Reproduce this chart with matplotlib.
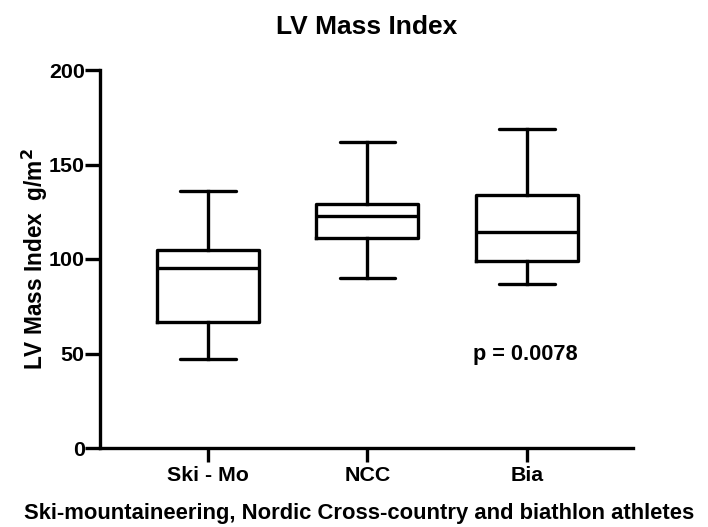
import matplotlib
matplotlib.use("Agg")
import matplotlib.pyplot as plt

# Box plot values (LV mass index, g/m^2)
groups = ["Ski - Mo", "NCC", "Bia"]
whisker_low = [47, 90, 87]
q1 = [66.5, 111, 99]
median = [95, 122.5, 114.5]
q3 = [105, 129, 134]
whisker_high = [136, 162, 169]

p_text = "p = 0.0078"

plt.rcParams["font.family"] = ["Liberation Sans", "DejaVu Sans"]
plt.rcParams["font.weight"] = "bold"

fig = plt.figure(figsize=(7.08, 5.27), dpi=100)
ax = fig.add_axes([100 / 708, 1 - 448 / 527, 533 / 708, 378 / 527])

stats = [
    {"label": g, "whislo": lo, "q1": a, "med": m, "q3": b, "whishi": hi, "fliers": []}
    for g, lo, a, m, b, hi in zip(groups, whisker_low, q1, median, q3, whisker_high)
]

lw = 2.4
ax.bxp(
    stats,
    positions=[1, 2, 3],
    widths=0.64,
    capwidths=0.35,
    showfliers=False,
    boxprops=dict(color="black", linewidth=lw),
    medianprops=dict(color="black", linewidth=lw),
    whiskerprops=dict(color="black", linewidth=lw),
    capprops=dict(color="black", linewidth=lw, solid_capstyle="round"),
)

ax.set_xlim(0.323, 3.665)
ax.set_ylim(0, 200)
ax.set_yticks([0, 50, 100, 150, 200])

for side in ["top", "right"]:
    ax.spines[side].set_visible(False)
for side in ["left", "bottom"]:
    ax.spines[side].set_linewidth(lw)

ax.tick_params(axis="y", length=11, width=lw, labelsize=15.4, pad=0)
ax.tick_params(axis="x", length=10, width=lw, labelsize=15.4, pad=3)
for lab in ax.get_xticklabels() + ax.get_yticklabels():
    lab.set_fontweight("bold")

ax.set_title("LV Mass Index", fontsize=19, fontweight="bold", pad=26)
ax.set_ylabel("LV Mass Index  g/m$^\\mathbf{2}$", fontsize=16.3, fontweight="bold", labelpad=-1)
ax.set_xlabel("Ski-mountaineering, Nordic Cross-country and biathlon athletes",
              fontsize=15.8, fontweight="bold")
ax.xaxis.set_label_coords(0.487, -0.172, transform=ax.transAxes)
ax.xaxis.label.set_va("center")

ax.text(2.99, 49.5, p_text, fontsize=15.7, fontweight="bold", ha="center", va="center")

fig.savefig("out.png", dpi=100)
